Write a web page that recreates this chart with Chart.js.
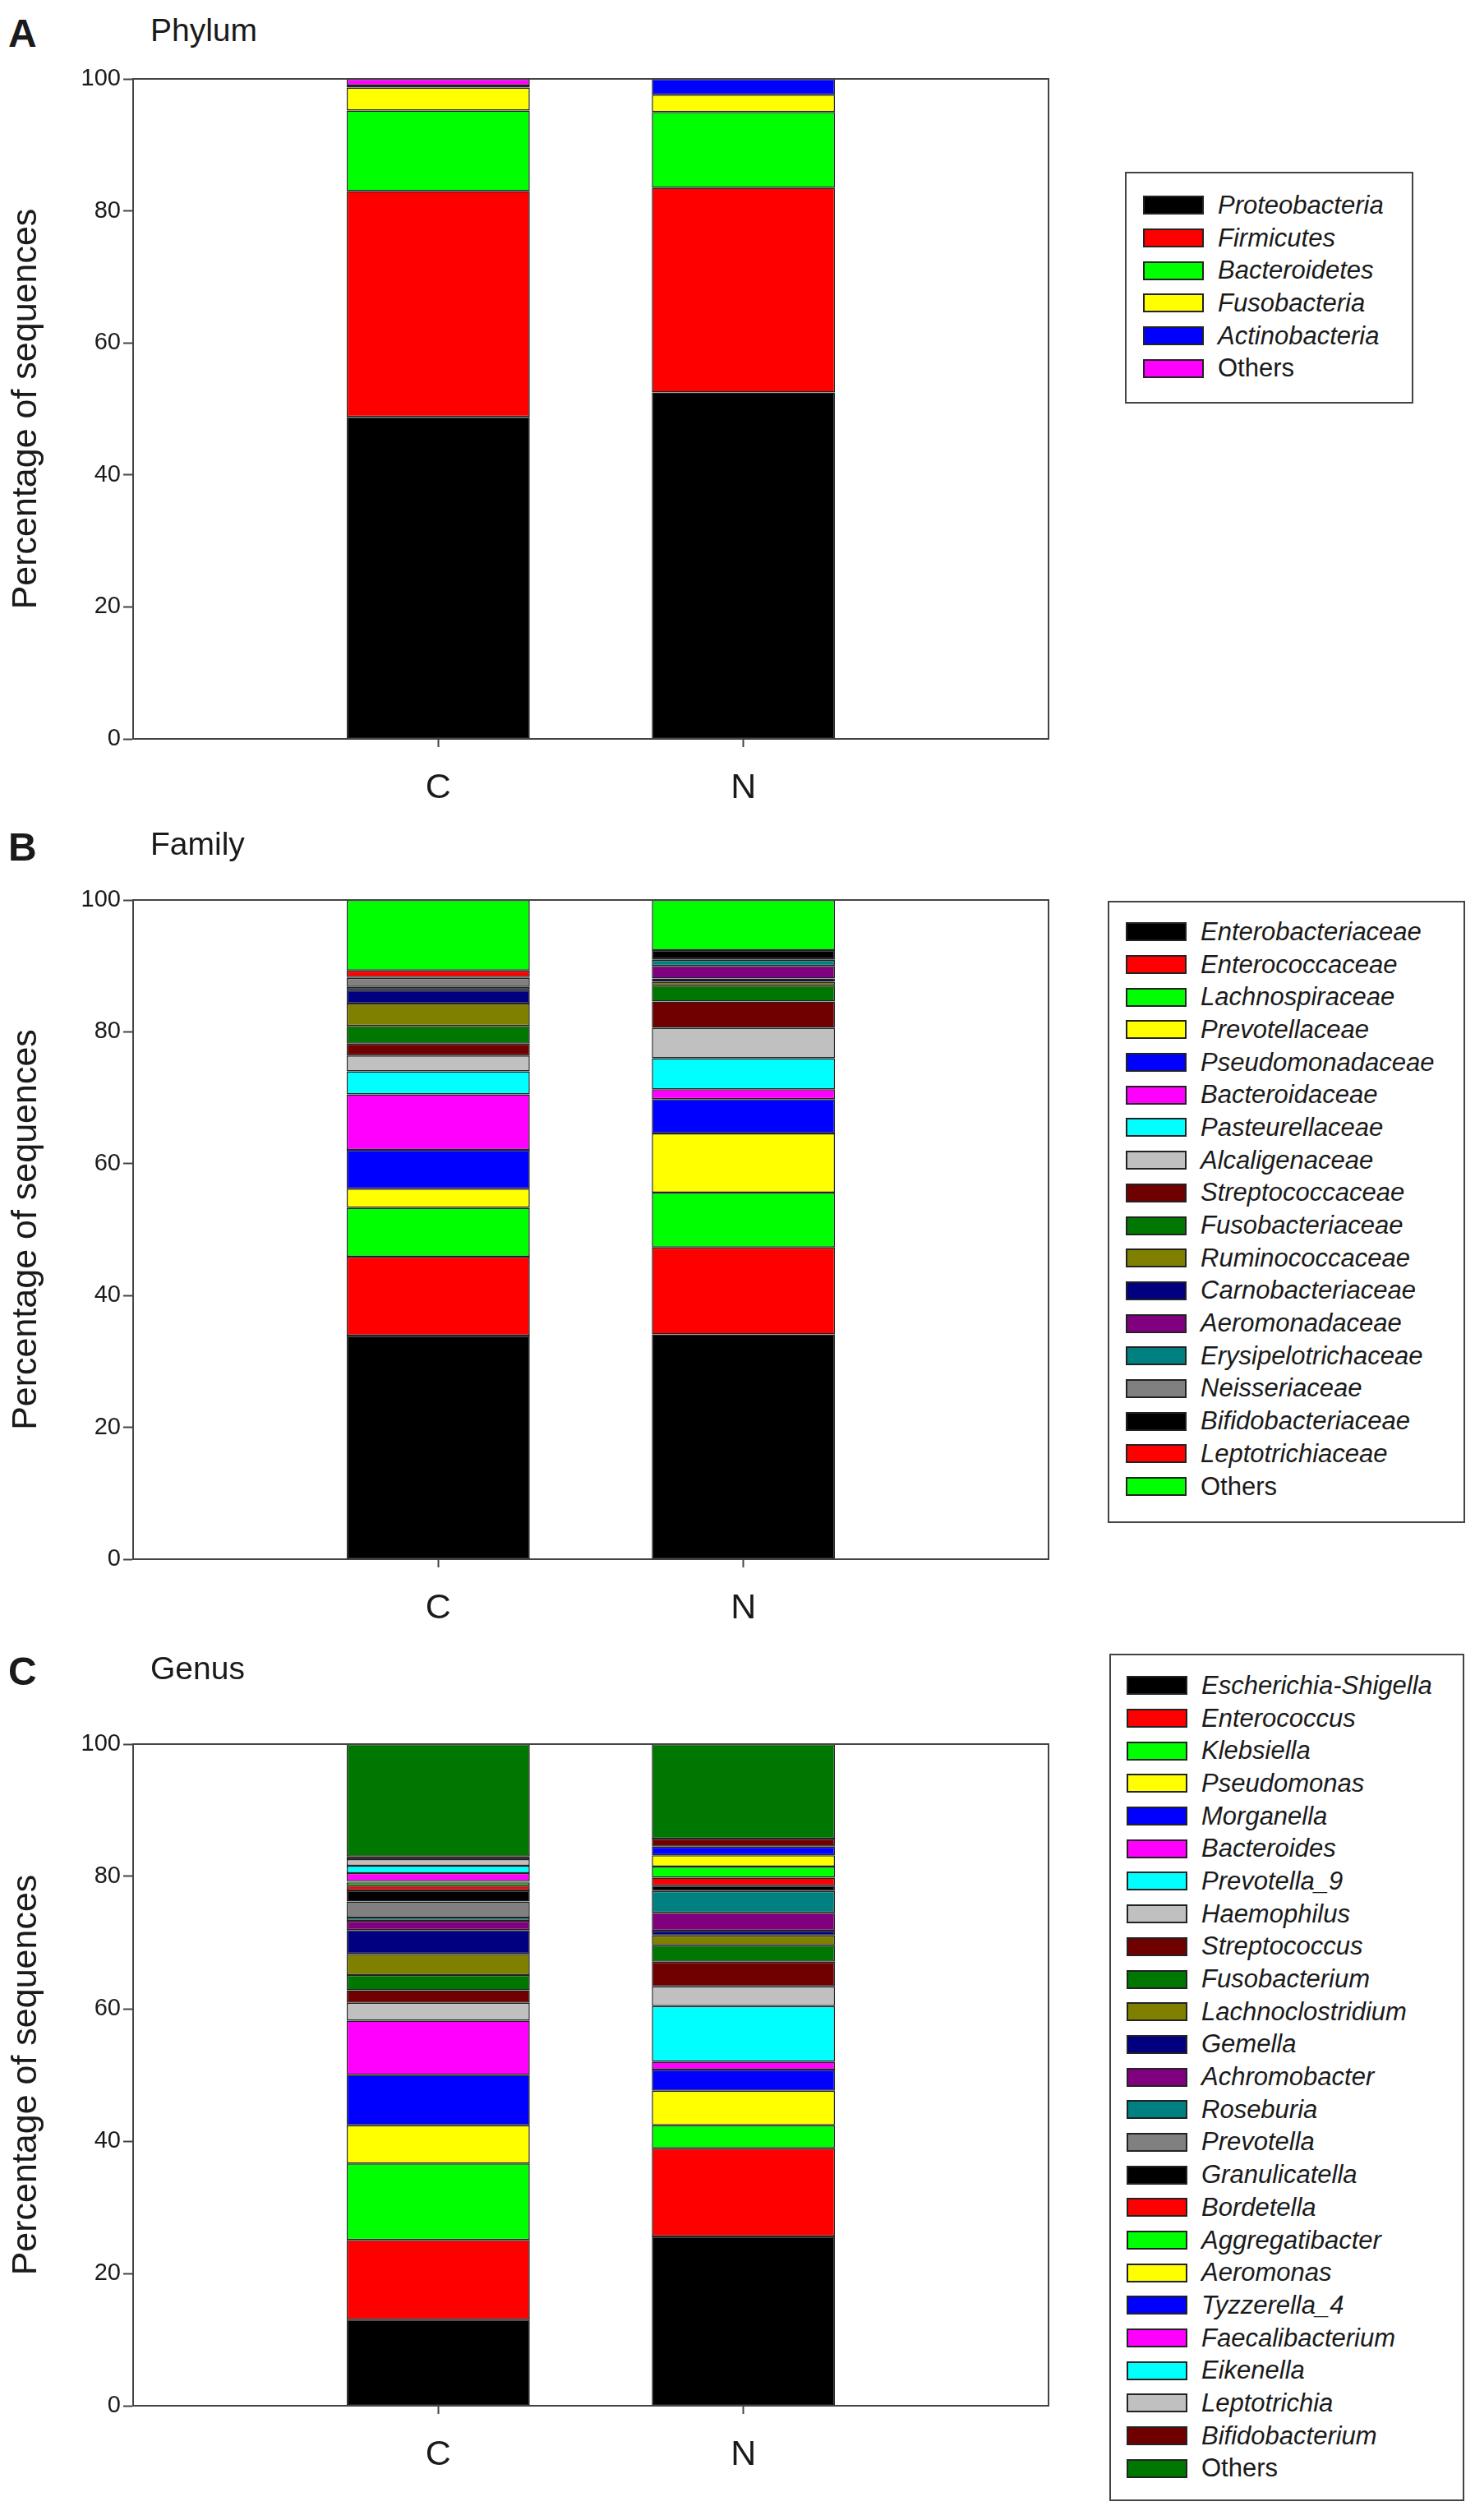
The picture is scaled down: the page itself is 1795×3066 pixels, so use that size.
<!DOCTYPE html>
<html>
<head>
<meta charset="utf-8">
<script src="https://cdn.jsdelivr.net/npm/chart.js@4.4.1/dist/chart.umd.min.js"></script>
<style>
  body { margin: 0; background: #fff; font-family: "Liberation Sans", Arial, sans-serif; color: #1a1a1a; }
  #page { position: relative; width: 1795px; height: 3066px; overflow: hidden; }
  .wrap { position: absolute; left: 0; width: 1300px; height: 1010px; }
  .tag { position: absolute; left: 10px; font-weight: bold; font-size: 48px; line-height: 1; }
  .name { position: absolute; left: 183px; font-size: 39px; line-height: 1; }
  .legend { position: absolute; border: 2px solid #444; box-sizing: border-box; }
  .row { display: flex; align-items: center; height: 39.7px; }
  .sw { width: 74px; height: 23px; box-sizing: border-box; border: 2px solid #222; margin-right: 17px; flex: none; }
  .row span { font-size: 31px; font-style: italic; white-space: nowrap; }
  .row span.plain { font-style: normal; }
</style>
</head>
<body>
<div id="page"></div>
<script>
const groups = ['C', 'N'];

// Phylum
const phylumNames = ['Proteobacteria', 'Firmicutes', 'Bacteroidetes', 'Fusobacteria', 'Actinobacteria', 'Others'];
const phylumColors = ['#000000', '#ff0000', '#00ff00', '#ffff00', '#0000ff', '#ff00ff'];
const phylumC = [48.8, 34.2, 12.2, 3.5, 0.3, 1.0];
const phylumN = [52.5, 31.0, 11.5, 2.6, 2.4, 0.0];

// Family
const familyNames = ['Enterobacteriaceae', 'Enterococcaceae', 'Lachnospiraceae', 'Prevotellaceae',
  'Pseudomonadaceae', 'Bacteroidaceae', 'Pasteurellaceae', 'Alcaligenaceae', 'Streptococcaceae',
  'Fusobacteriaceae', 'Ruminococcaceae', 'Carnobacteriaceae', 'Aeromonadaceae', 'Erysipelotrichaceae',
  'Neisseriaceae', 'Bifidobacteriaceae', 'Leptotrichiaceae', 'Others'];
const familyColors = ['#000000', '#ff0000', '#00ff00', '#ffff00', '#0000ff', '#ff00ff', '#00ffff', '#c0c0c0',
  '#700000', '#007700', '#808000', '#000080', '#800080', '#008080', '#808080', '#000000', '#ff0000', '#00ff00'];
const familyC = [33.9, 12.0, 7.4, 2.9, 5.9, 8.4, 3.5, 2.4, 1.8, 2.7, 3.4, 2.0, 0.1, 0.4, 1.4, 0.1, 1.0, 10.7];
const familyN = [34.1, 13.2, 8.3, 9.0, 5.2, 1.5, 4.7, 4.6, 4.0, 2.4, 0.6, 0.5, 1.9, 0.9, 0.1, 1.4, 0.0, 7.6];

// Genus
const genusNames = ['Escherichia-Shigella', 'Enterococcus', 'Klebsiella', 'Pseudomonas', 'Morganella',
  'Bacteroides', 'Prevotella_9', 'Haemophilus', 'Streptococcus', 'Fusobacterium', 'Lachnoclostridium',
  'Gemella', 'Achromobacter', 'Roseburia', 'Prevotella', 'Granulicatella', 'Bordetella', 'Aggregatibacter',
  'Aeromonas', 'Tyzzerella_4', 'Faecalibacterium', 'Eikenella', 'Leptotrichia', 'Bifidobacterium', 'Others'];
const genusColors = ['#000000', '#ff0000', '#00ff00', '#ffff00', '#0000ff', '#ff00ff', '#00ffff', '#c0c0c0',
  '#700000', '#007700', '#808000', '#000080', '#800080', '#008080', '#808080', '#000000', '#ff0000', '#00ff00',
  '#ffff00', '#0000ff', '#ff00ff', '#00ffff', '#c0c0c0', '#700000', '#007700'];
const genusC = [13.0, 12.05, 11.55, 5.8, 7.6, 8.2, 0.0, 2.7, 1.9, 2.3, 3.2, 3.6, 1.4, 0.5, 2.4, 1.7, 0.7, 0.5,
  0.1, 0.1, 1.2, 1.1, 1.0, 0.4, 17.0];
const genusN = [25.6, 13.3, 3.5, 5.2, 3.2, 1.2, 8.4, 3.0, 3.7, 2.5, 1.5, 0.7, 2.7, 3.3, 0.0, 0.8, 1.2, 1.7,
  1.7, 1.3, 0.0, 0.0, 0.0, 1.2, 14.3];

const panels = [
  { tag: 'A', title: 'Phylum', names: phylumNames, colors: phylumColors, c: phylumC, n: phylumN,
    top: 0, plotTop: 96, plotBottom: 899, tagTop: 17,
    legend: { left: 1369, top: 209, width: 351, height: 282, padTop: 19, padLeft: 20 } },
  { tag: 'B', title: 'Family', names: familyNames, colors: familyColors, c: familyC, n: familyN,
    top: 1000, plotTop: 1095, plotBottom: 1897, tagTop: 1007,
    legend: { left: 1348, top: 1096, width: 435, height: 757, padTop: 16, padLeft: 20 } },
  { tag: 'C', title: 'Genus', names: genusNames, colors: genusColors, c: genusC, n: genusN,
    top: 2030, plotTop: 2122, plotBottom: 2927, tagTop: 2010,
    legend: { left: 1350, top: 2012, width: 432, height: 1031, padTop: 17, padLeft: 19 } }
];

// box around the plotting area
const framePlugin = {
  id: 'frame',
  afterDatasetsDraw(chart) {
    const { ctx, chartArea: a } = chart;
    ctx.save();
    ctx.strokeStyle = '#444';
    ctx.lineWidth = 2;
    ctx.strokeRect(a.left, a.top, a.right - a.left, a.bottom - a.top);
    ctx.restore();
  }
};

const page = document.getElementById('page');

panels.forEach(function (p) {
  const tag = document.createElement('div');
  tag.className = 'tag';
  tag.style.top = p.tagTop + 'px';
  tag.textContent = p.tag;
  page.appendChild(tag);

  const name = document.createElement('div');
  name.className = 'name';
  name.style.top = p.tagTop + 'px';
  name.textContent = p.title;
  page.appendChild(name);

  const wrap = document.createElement('div');
  wrap.className = 'wrap';
  wrap.style.top = p.top + 'px';
  const canvas = document.createElement('canvas');
  wrap.appendChild(canvas);
  page.appendChild(wrap);

  const datasets = p.names.map(function (nm, i) {
    return {
      label: nm,
      data: [null, p.c[i], p.n[i], null],
      backgroundColor: p.colors[i],
      borderColor: '#222',
      borderWidth: 1.5,
      borderSkipped: false,
      barPercentage: 0.6,
      categoryPercentage: 1.0
    };
  });

  const chart = new Chart(canvas.getContext('2d'), {
    type: 'bar',
    data: { labels: ['', groups[0], groups[1], ''], datasets: datasets },
    options: {
      responsive: true,
      maintainAspectRatio: false,
      animation: false,
      layout: { padding: { top: p.plotTop - p.top, right: 19, bottom: 0, left: 0 } },
      plugins: { legend: { display: false }, tooltip: { enabled: false } },
      scales: {
        x: {
          stacked: true,
          offset: false,
          afterFit: function (s) { s.height = p.top + 1010 - p.plotBottom; },
          grid: {
            offset: false,
            drawOnChartArea: false,
            tickLength: 10,
            tickWidth: 2,
            tickColor: function (ctx) { return (ctx.index === 1 || ctx.index === 2) ? '#444' : 'rgba(0,0,0,0)'; }
          },
          border: { display: true, color: '#444', width: 2 },
          ticks: { autoSkip: false, maxRotation: 0, padding: 24, color: '#1a1a1a',
            font: { family: '"Liberation Sans", Arial, sans-serif', size: 43 } }
        },
        y: {
          stacked: true,
          min: 0,
          max: 100,
          afterFit: function (s) { s.width = 162; },
          grid: { drawOnChartArea: false, tickLength: 12, tickWidth: 2, tickColor: '#444' },
          border: { display: true, color: '#444', width: 2 },
          ticks: { stepSize: 20, padding: 3, color: '#1a1a1a',
            font: { family: '"Liberation Sans", Arial, sans-serif', size: 29 } },
          title: { display: true, text: 'Percentage of sequences', color: '#1a1a1a',
            padding: { top: 6, bottom: 0 },
            font: { family: '"Liberation Sans", Arial, sans-serif', size: 43 } }
        }
      }
    },
    plugins: [framePlugin]
  });

  // legend box built from the chart's datasets
  const lg = document.createElement('div');
  lg.className = 'legend';
  lg.style.left = p.legend.left + 'px';
  lg.style.top = p.legend.top + 'px';
  lg.style.width = p.legend.width + 'px';
  lg.style.height = p.legend.height + 'px';
  lg.style.paddingTop = p.legend.padTop + 'px';
  lg.style.paddingLeft = p.legend.padLeft + 'px';
  chart.data.datasets.forEach(function (ds) {
    const row = document.createElement('div');
    row.className = 'row';
    const sw = document.createElement('div');
    sw.className = 'sw';
    sw.style.background = ds.backgroundColor;
    const tx = document.createElement('span');
    tx.textContent = ds.label;
    if (ds.label === 'Others') tx.className = 'plain';
    row.appendChild(sw);
    row.appendChild(tx);
    lg.appendChild(row);
  });
  page.appendChild(lg);
});
</script>
</body>
</html>
